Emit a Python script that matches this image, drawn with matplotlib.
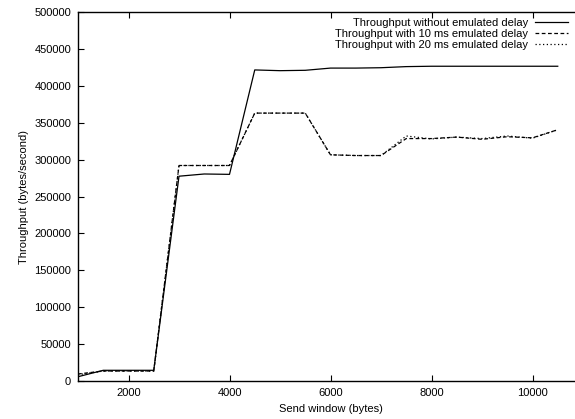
import matplotlib
matplotlib.use("Agg")
import matplotlib.pyplot as plt

plt.rcParams['font.family'] = ['Liberation Sans', 'DejaVu Sans']

# Send window sizes (bytes)
send_window = [1000, 1500, 2000, 2500, 3000, 3500, 4000, 4500, 5000, 5500,
               6000, 6500, 7000, 7500, 8000, 8500, 9000, 9500, 10000, 10500]

# Throughput (bytes/second)
no_delay = [5800, 14500, 14500, 14500, 277500, 280500, 280000, 421500, 420500, 421000,
            424000, 424000, 424500, 426000, 426500, 426500, 426500, 426500, 426500, 426500]
delay_10ms = [9500, 13500, 13500, 13500, 292000, 292000, 292000, 363000, 363000, 363000,
              306500, 305500, 305500, 328500, 328500, 330500, 327500, 331000, 329500, 340500]
delay_20ms = [8500, 13500, 13500, 13500, 292000, 292000, 292000, 363000, 363000, 363000,
              306500, 305500, 305500, 332000, 328000, 330500, 328500, 332000, 329000, 340500]

labels = ['Throughput without emulated delay',
          'Throughput with 10 ms emulated delay',
          'Throughput with 20 ms emulated delay']

fig = plt.figure(figsize=(5.75, 4.19), dpi=100)
# right side of the frame falls outside the picture (cropped like the original)
ax = fig.add_axes([78 / 575, 38 / 419, 505 / 575, 369 / 419])

ax.plot(send_window, no_delay, color='black', lw=0.9, label=labels[0])
ax.plot(send_window, delay_10ms, color='black', lw=0.9, dashes=(3, 2), label=labels[1])
ax.plot(send_window, delay_20ms, color='black', lw=0.9, dashes=(1, 2), label=labels[2])

ax.set_xlim(1000, 11000)
ax.set_ylim(0, 500000)
ax.set_xticks([2000, 4000, 6000, 8000, 10000])
ax.set_yticks(range(0, 500001, 50000))
ax.tick_params(direction='in', top=True, right=True, labelsize=8, length=4, width=0.8, pad=5)
for s in ax.spines.values():
    s.set_linewidth(1.0)

ax.set_xlabel('Send window (bytes)', fontsize=8, labelpad=4)
ax.set_ylabel('Throughput (bytes/second)', fontsize=8, labelpad=4)

fig.legend(loc='upper right', bbox_to_anchor=(568 / 575, 1 - 18 / 419), frameon=False,
           markerfirst=False, fontsize=8, handlelength=3.0, handletextpad=0.6,
           labelspacing=0.1, borderpad=0, borderaxespad=0)

fig.savefig('out.png', dpi=100)
